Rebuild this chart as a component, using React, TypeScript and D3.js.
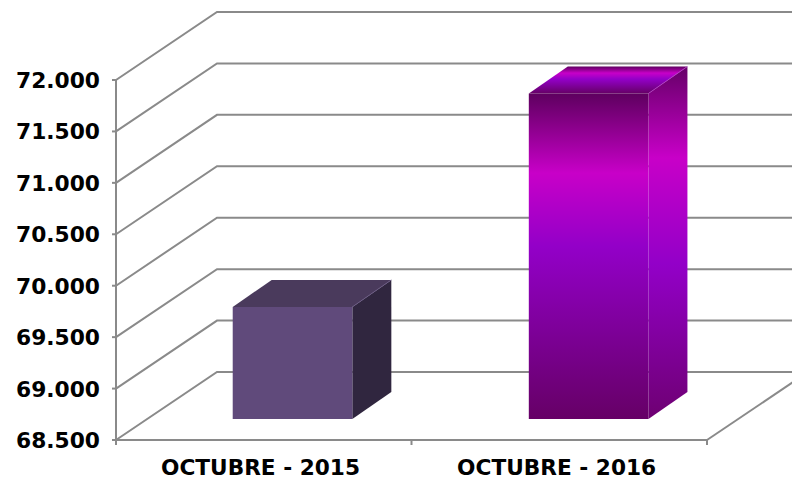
import * as d3 from "d3";

const categories = ["OCTUBRE - 2015", "OCTUBRE - 2016"];
const values = [69590, 71665];
const yTicks = [68500, 69000, 69500, 70000, 70500, 71000, 71500, 72000];

const width = 792;
const height = 479;
const gridColor = "#8a8a8a";

// 3D wall offset, and the offsets of the bars inside the floor
const depthX = 101;
const depthY = -68;
const barInsetX = 31;
const barInsetY = -21;
const barDx = 39;
const barDy = -27;

const y = d3.scaleLinear().domain([68500, 72000]).range([440, 80]);
const x = d3
  .scaleBand()
  .domain(categories)
  .range([116, 707])
  .paddingInner(0.596)
  .paddingOuter(0.296)
  .align(0.489);

const fmt = d3.formatLocale({
  decimal: ",",
  thousands: ".",
  grouping: [3],
  currency: ["", ""],
}).format(",d");

const x0 = x.range()[0];
const x1 = x.range()[1];
const poly = d3.line();

const frontStops = [
  { offset: "0%", color: "#5e005f" },
  { offset: "24.5%", color: "#c800c8" },
  { offset: "47%", color: "#9300c8" },
  { offset: "100%", color: "#660066" },
];
const sideStops = [
  { offset: "0%", color: "#660068" },
  { offset: "26%", color: "#c800c8" },
  { offset: "56%", color: "#9300c8" },
  { offset: "100%", color: "#6e0072" },
];

const Bar = ({ name, value, index }: { name: string; value: number; index: number }) => {
  const left = x(name)! + barInsetX;
  const right = left + x.bandwidth();
  const base = y(68500) + barInsetY;
  const top = base - (y(68500) - y(value));

  const front: [number, number][] = [[left, top], [right, top], [right, base], [left, base]];
  const roof: [number, number][] = [[left, top], [left + barDx, top + barDy], [right + barDx, top + barDy], [right, top]];
  const side: [number, number][] = [[right, top], [right + barDx, top + barDy], [right + barDx, base + barDy], [right, base]];

  // first bar is flat purple, second one uses the gradients
  const fills = index === 0
    ? { front: "#604a7b", roof: "#4a3a5c", side: "#30263f", edge: "#6b5a85" }
    : { front: "url(#frontGradient)", roof: "url(#frontGradient)", side: "url(#sideGradient)", edge: "#b23fc4" };

  return (
    <g>
      <path d={poly(side)!} fill={fills.side} />
      <path d={poly(roof)!} fill={fills.roof} />
      <path d={poly(front)!} fill={fills.front} />
      <line x1={right} y1={top} x2={right + barDx} y2={top + barDy} stroke={fills.edge} strokeWidth={0.8} />
    </g>
  );
};

export default function App() {
  return (
    <svg
      width={width}
      height={height}
      style={{ position: "absolute", left: 0, top: 0, background: "#fff" }}
      fontFamily="DejaVu Sans"
      fontWeight="bold"
    >
      <defs>
        <linearGradient id="frontGradient" x1="0" y1="0" x2="0" y2="1">
          {frontStops.map((s) => (
            <stop key={s.offset} offset={s.offset} stopColor={s.color} />
          ))}
        </linearGradient>
        <linearGradient id="sideGradient" x1="0" y1="0" x2="0" y2="1">
          {sideStops.map((s) => (
            <stop key={s.offset} offset={s.offset} stopColor={s.color} />
          ))}
        </linearGradient>
      </defs>

      {/* side wall and back wall gridlines */}
      {yTicks.map((t) => (
        <g key={t} stroke={gridColor} strokeWidth={2} fill="none">
          <path d={poly([[x0, y(t)], [x0 + depthX, y(t) + depthY], [x1 + depthX, y(t) + depthY]])!} />
          <line x1={x0 - 4} x2={x0} y1={y(t)} y2={y(t)} />
        </g>
      ))}

      {/* floor */}
      <g stroke={gridColor} strokeWidth={2} fill="none">
        <line x1={x0} x2={x0} y1={y(72000)} y2={y(68500) + 5} />
        <line x1={x0} x2={x1} y1={y(68500)} y2={y(68500)} />
        <line x1={x1} y1={y(68500)} x2={x1 + depthX} y2={y(68500) + depthY} />
        {[x0, (x0 + x1) / 2, x1].map((p) => (
          <line key={p} x1={p} x2={p} y1={y(68500)} y2={y(68500) + 5} />
        ))}
      </g>

      {categories.map((c, i) => (
        <Bar key={c} name={c} value={values[i]} index={i} />
      ))}

      {yTicks.map((t) => (
        <text
          key={t}
          x={100}
          y={y(t) + 8}
          textAnchor="end"
          fontSize={21}
          textLength={84}
          lengthAdjust="spacingAndGlyphs"
          fill="#000"
        >
          {fmt(t)}
        </text>
      ))}

      {categories.map((c) => (
        <text
          key={c}
          x={x(c)! + x.bandwidth() / 2 - 1}
          y={475}
          textAnchor="middle"
          fontSize={20.5}
          textLength={199}
          lengthAdjust="spacingAndGlyphs"
          fill="#000"
        >
          {c}
        </text>
      ))}
    </svg>
  );
}
